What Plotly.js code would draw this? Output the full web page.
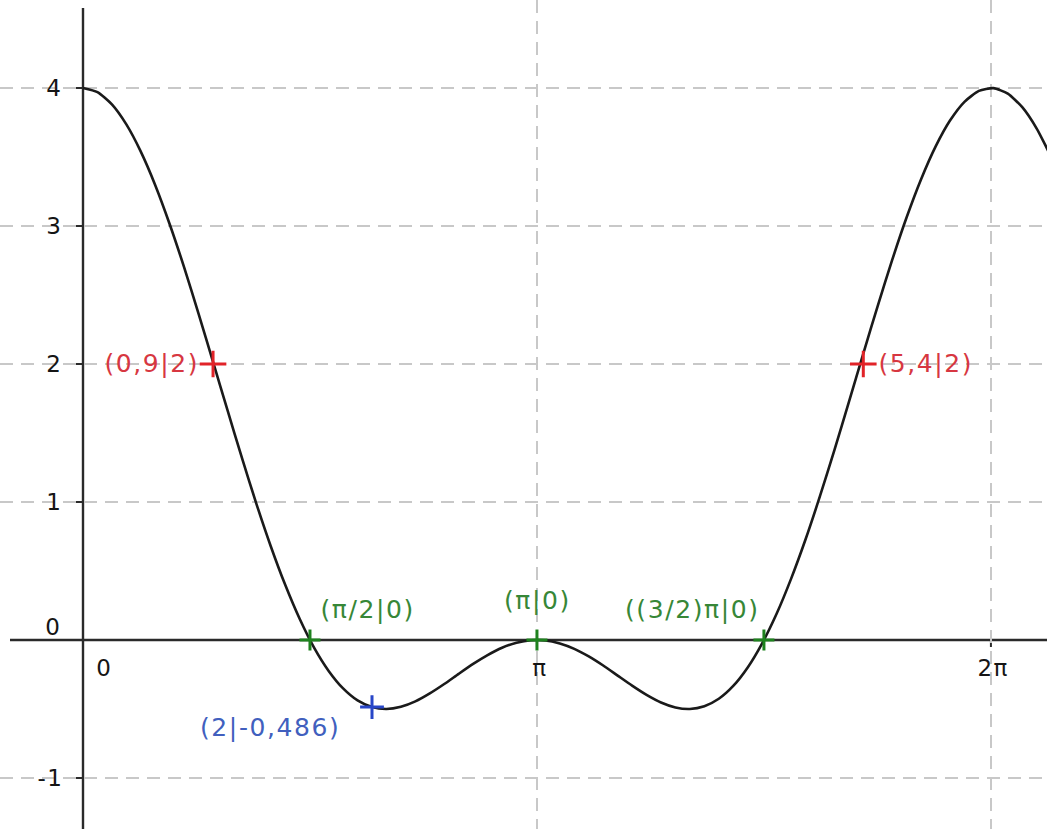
<!DOCTYPE html>
<html>
<head>
<meta charset="utf-8">
<script src="https://cdn.plot.ly/plotly-3.0.1.min.js"></script>
<style>
html,body{margin:0;padding:0;background:#fff;}
#chart{width:1047px;height:829px;}
#chart .annotation-text{letter-spacing:1.6px;}
</style>
</head>
<body>
<div id="chart"></div>
<script>
// Curve samples
const curveX = [0,0.1,0.2,0.3,0.4,0.5,0.6,0.7,0.8,0.9,1.0,1.1,1.2,1.3,1.4,1.5,1.6,1.7,1.8,1.9,2.0,2.1,2.2,2.3,2.4,2.5,2.6,2.7,2.8,2.9,3.0,3.1,3.2,3.3,3.4,3.5,3.6,3.7,3.8,3.9,4.0,4.1,4.2,4.3,4.4,4.5,4.6,4.7,4.8,4.9,5.0,5.1,5.2,5.3,5.4,5.5,5.6,5.7,5.8,5.9,6.0,6.1,6.2,6.3,6.4,6.5,6.6,6.7];
const curveY = [4,3.970,3.881,3.736,3.539,3.296,3.013,2.700,2.364,2.016,1.665,1.319,0.987,0.678,0.398,0.152,-0.057,-0.224,-0.351,-0.438,-0.486,-0.500,-0.484,-0.445,-0.387,-0.319,-0.245,-0.173,-0.109,-0.056,-0.020,-0.002,-0.003,-0.025,-0.064,-0.119,-0.185,-0.258,-0.331,-0.398,-0.453,-0.489,-0.500,-0.480,-0.426,-0.333,-0.199,-0.024,0.190,0.443,0.728,1.042,1.376,1.723,2.075,2.422,2.754,3.063,3.339,3.575,3.764,3.900,3.979,3.999,3.959,3.861,3.706,3.501];

// Marked points
const redX = [0.9, 5.4];
const redY = [2, 2];
const redLabels = ["(0,9|2)", "(5,4|2)"];
const greenX = [Math.PI/2, Math.PI, 3*Math.PI/2];
const greenY = [0, 0, 0];
const greenLabels = ["(π/2|0)", "(π|0)", "((3/2)π|0)"];
const blueX = [2];
const blueY = [-0.486];
const blueLabels = ["(2|-0,486)"];

// Axis ticks
const yTickVals = [-1, 0, 1, 2, 3, 4];
const yTickText = ["-1", "0", "1", "2", "3", "4"];
const xTickVals = [0, Math.PI, 2*Math.PI];
const xTickText = ["0", "π", "2π"];

const W = 1047, H = 829;
// pixel mapping: x0 at 83px, 144.5 px/unit ; y0 at 640px, 138 px/unit
const xr = [-83/144.5, (W-83)/144.5];
const yr = [-(H-640)/138, 640/138];

const FONT = "DejaVu Sans, Arial, sans-serif";
const RED = "rgb(225,35,40)", REDT = "rgb(215,55,65)";
const GREEN = "rgb(30,130,30)", GREENT = "rgb(55,135,55)";
const BLUE = "rgb(40,70,200)", BLUET = "rgb(65,95,190)";

const traces = [
  {x: curveX, y: curveY, mode: "lines", line: {color: "#1a1a1a", width: 2.6, shape: "spline", smoothing: 0.6}, hoverinfo: "skip"},
  {x: redX, y: redY, mode: "markers", marker: {symbol: "cross-thin", size: 19, line: {color: RED, width: 3}}},
  {x: greenX, y: greenY, mode: "markers", marker: {symbol: "cross-thin", size: 15, line: {color: GREEN, width: 3}}},
  {x: blueX, y: blueY, mode: "markers", marker: {symbol: "cross-thin", size: 17, line: {color: BLUE, width: 3}}}
];

const ann = [];
const tf = {family: FONT, size: 23, color: "#151515"};
yTickVals.forEach((v, i) => {
  ann.push({x: 0, y: v, xref: "x", yref: "y", text: yTickText[i], showarrow: false,
    xanchor: "right", yanchor: "middle", xshift: v === 0 ? -20 : -19, yshift: v === 0 ? 13 : 0, font: tf});
});
xTickVals.forEach((v, i) => {
  ann.push({x: v, y: 0, xref: "x", yref: "y", text: xTickText[i], showarrow: false,
    xanchor: i === 0 ? "left" : "center", yanchor: "middle", xshift: i === 0 ? 12 : 3, yshift: -28, font: tf});
});
const lf = (c) => ({family: FONT, size: 25, color: c});
ann.push({x: redX[0], y: redY[0], text: redLabels[0], showarrow: false, xanchor: "right", yanchor: "middle", xshift: -17, yshift: 1, font: lf(REDT)});
ann.push({x: redX[1], y: redY[1], text: redLabels[1], showarrow: false, xanchor: "left", yanchor: "middle", xshift: 19, yshift: 1, font: lf(REDT)});
ann.push({x: greenX[0], y: 0, text: greenLabels[0], showarrow: false, xanchor: "left", yanchor: "middle", xshift: 14, yshift: 31, font: lf(GREENT)});
ann.push({x: greenX[1], y: 0, text: greenLabels[1], showarrow: false, xanchor: "center", yanchor: "middle", xshift: 1, yshift: 40, font: lf(GREENT)});
ann.push({x: greenX[2], y: 0, text: greenLabels[2], showarrow: false, xanchor: "right", yanchor: "middle", xshift: -10, yshift: 31, font: lf(GREENT)});
ann.push({x: blueX[0], y: blueY[0], text: blueLabels[0], showarrow: false, xanchor: "right", yanchor: "middle", xshift: -38, yshift: -20, font: lf(BLUET)});

const shapes = [
  // axes
  {type: "line", xref: "paper", yref: "y", x0: 10/W, x1: 1, y0: 0, y1: 0, line: {color: "#2a2a2a", width: 2.4}, layer: "below"},
  {type: "line", xref: "x", yref: "paper", x0: 0, x1: 0, y0: 0, y1: 1 - 8/H, line: {color: "#2a2a2a", width: 2.4}, layer: "below"}
];
yTickVals.forEach(v => {
  shapes.push({type: "line", xref: "x", yref: "y", x0: -10/144.5, x1: 0, y0: v, y1: v, line: {color: "#2a2a2a", width: 2}, layer: "below"});
});
xTickVals.slice(1).forEach(v => {
  shapes.push({type: "line", xref: "x", yref: "y", x0: v, x1: v, y0: 0, y1: -7/138, line: {color: "#2a2a2a", width: 2}, layer: "below"});
});

const layout = {
  width: W, height: H,
  margin: {l: 0, r: 0, t: 0, b: 0, pad: 0},
  paper_bgcolor: "#fff", plot_bgcolor: "#fff",
  showlegend: false,
  xaxis: {range: xr, showgrid: true, gridcolor: "#c8c8c8", gridwidth: 1.8, griddash: "13px,8px",
    tickvals: [Math.PI, 2*Math.PI], showticklabels: false, ticks: "", zeroline: false, showline: false, fixedrange: true},
  yaxis: {range: yr, showgrid: true, gridcolor: "#c8c8c8", gridwidth: 1.8, griddash: "13px,8px",
    tickvals: [-1, 1, 2, 3, 4], showticklabels: false, ticks: "", zeroline: false, showline: false, fixedrange: true},
  annotations: ann,
  shapes: shapes
};

Plotly.newPlot("chart", traces, layout, {staticPlot: true, displayModeBar: false});
</script>
</body>
</html>
